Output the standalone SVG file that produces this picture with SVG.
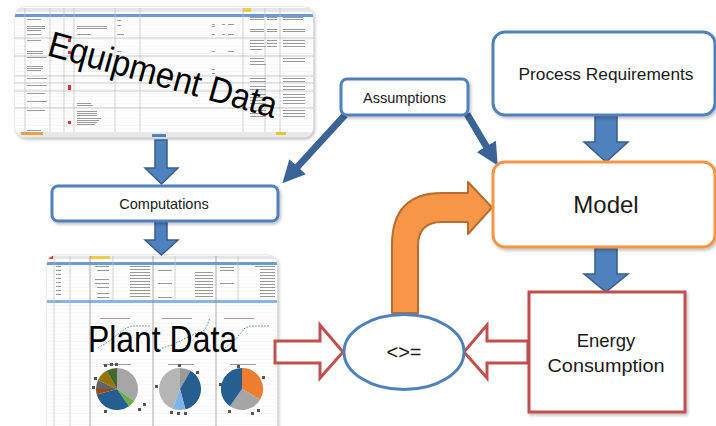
<svg xmlns="http://www.w3.org/2000/svg" width="716" height="426" viewBox="0 0 716 426">
<style>
.box{fill:#fff;stroke:#4f81bd;stroke-width:3}
.lbl{font-family:"Liberation Sans","Open Sans",Arial,sans-serif;fill:#1a1a1a;text-anchor:middle}
.big{font-family:"Liberation Sans","Open Sans",Arial,sans-serif;fill:#000}
.blk{fill:#4f81bd;stroke:#385d8a;stroke-width:1.5}
.hollow{fill:#fff;stroke:#c0504d;stroke-width:3;stroke-linejoin:miter}
.grid{stroke:#d0d0d0;stroke-width:0.5}
.vline{stroke:#bfbfbf;stroke-width:0.7}
.cell{fill:#9a9a9a}
.thin{stroke:#3a6496;stroke-width:7;fill:none}
</style>
<defs>
<pattern id="rows" width="8" height="3.6" patternUnits="userSpaceOnUse">
<rect width="8" height="3.6" fill="#fff"/>
<line x1="0" y1="3.5" x2="8" y2="3.5" stroke="#e4e4e4" stroke-width="0.5"/>
</pattern>
<clipPath id="ceq"><rect x="15" y="7" width="298" height="130" rx="9"/></clipPath>
<clipPath id="cpl"><rect x="47" y="255" width="230" height="180" rx="9"/></clipPath>
<marker id="ah" viewBox="0 0 10 10" refX="5" refY="5" markerWidth="3.2" markerHeight="3.2" orient="auto">
<path d="M0,0 L10,5 L0,10 Z" fill="#3a6496"/>
</marker>
<filter id="sh" x="-10%" y="-10%" width="120%" height="130%">
<feDropShadow dx="1.5" dy="2" stdDeviation="1.5" flood-color="#000" flood-opacity="0.25"/>
</filter>
</defs>

<!-- Equipment Data spreadsheet -->
<g id="equipment-data">
<rect x="15" y="7" width="298" height="130" rx="9" fill="#fff" stroke="#d8d8d8" filter="url(#sh)"/>
<g clip-path="url(#ceq)">
<rect x="15" y="7" width="298" height="130" fill="url(#rows)"/>
<rect x="15" y="8" width="298" height="4" fill="#e6e6e6"/>
<rect x="243" y="8" width="8" height="4" fill="#f2c94c"/>
<rect x="15" y="14" width="298" height="3" fill="#6c9bd2"/>
<line class="vline" x1="25" y1="8" x2="25" y2="132"/>
<line class="vline" x1="50" y1="8" x2="50" y2="132"/>
<line class="vline" x1="64" y1="8" x2="64" y2="132"/>
<line class="vline" x1="74" y1="8" x2="74" y2="132"/>
<line class="vline" x1="115" y1="8" x2="115" y2="132"/>
<line class="vline" x1="140" y1="8" x2="140" y2="132"/>
<line class="vline" x1="243" y1="8" x2="243" y2="132" stroke="#999"/>
<line class="vline" x1="265" y1="8" x2="265" y2="132"/>
<line class="vline" x1="280" y1="8" x2="280" y2="132"/>
<g stroke="#bdbdbd" stroke-width="0.8">
<line x1="15" y1="38" x2="313" y2="38"/><line x1="15" y1="56" x2="313" y2="56"/>
<line x1="15" y1="76" x2="313" y2="76"/><line x1="15" y1="83" x2="313" y2="83"/>
<line x1="15" y1="91" x2="313" y2="91"/><line x1="15" y1="108" x2="313" y2="108"/>
</g>
<g class="cell">
<rect x="27" y="19" width="14" height="1"/><rect x="27" y="26" width="18" height="1"/><rect x="27" y="28" width="18" height="1"/><rect x="27" y="30" width="14" height="1"/><rect x="27" y="34" width="14" height="1"/>
<rect x="77" y="26" width="30" height="1"/><rect x="77" y="28" width="30" height="1"/><rect x="77" y="34" width="14" height="1"/>
<rect x="27" y="40" width="14" height="1"/><rect x="27" y="51" width="16" height="1"/><rect x="27" y="53" width="16" height="1"/>
<rect x="27" y="57" width="20" height="1"/><rect x="27" y="66" width="16" height="1"/><rect x="27" y="68" width="16" height="1"/><rect x="27" y="70" width="14" height="1"/>
<rect x="27" y="78" width="20" height="1"/><rect x="27" y="85" width="20" height="1"/><rect x="27" y="93" width="18" height="1"/>
<rect x="27" y="101" width="20" height="1"/><rect x="27" y="110" width="18" height="1"/><rect x="27" y="130" width="14" height="1"/>
<rect x="77" y="103" width="14" height="1"/><rect x="77" y="105" width="16" height="1"/><rect x="77" y="111" width="20" height="1"/><rect x="77" y="113" width="20" height="1"/><rect x="77" y="115" width="20" height="1"/><rect x="77" y="118" width="24" height="1"/><rect x="77" y="120" width="22" height="1"/><rect x="77" y="122" width="20" height="1"/><rect x="77" y="124" width="18" height="1"/>
<rect x="117" y="20" width="4" height="1"/><rect x="117" y="25" width="4" height="1"/><rect x="117" y="34" width="7" height="1"/><rect x="117" y="51" width="4" height="1"/>
<rect x="212" y="24" width="3" height="1"/><rect x="212" y="26" width="3" height="1"/><rect x="212" y="34" width="3" height="1"/><rect x="212" y="51" width="3" height="1"/><rect x="212" y="69" width="3" height="1"/><rect x="212" y="73" width="3" height="1"/>
<rect x="222" y="24" width="3" height="1"/><rect x="228" y="24" width="6" height="1"/><rect x="222" y="34" width="3" height="1"/><rect x="228" y="34" width="6" height="1"/><rect x="228" y="51" width="6" height="1"/>
<rect x="250" y="17" width="14" height="1"/><rect x="250" y="19" width="14" height="1"/><rect x="250" y="29" width="14" height="1"/><rect x="250" y="31" width="14" height="1"/>
<rect x="267" y="17" width="10" height="1"/><rect x="267" y="19" width="10" height="1"/><rect x="267" y="29" width="10" height="1"/><rect x="267" y="31" width="10" height="1"/>
<rect x="283" y="17" width="20" height="1"/><rect x="283" y="19" width="20" height="1"/><rect x="283" y="29" width="22" height="1"/><rect x="283" y="31" width="22" height="1"/>
<rect x="250" y="40" width="14" height="1"/><rect x="250" y="43" width="14" height="1"/><rect x="250" y="46" width="16" height="1"/><rect x="250" y="49" width="12" height="1"/>
<rect x="267" y="40" width="10" height="1"/><rect x="267" y="43" width="10" height="1"/><rect x="267" y="46" width="10" height="1"/><rect x="283" y="40" width="22" height="1"/><rect x="283" y="43" width="22" height="1"/><rect x="283" y="46" width="22" height="1"/>
<rect x="250" y="58" width="14" height="1"/><rect x="250" y="61" width="14" height="1"/><rect x="250" y="64" width="16" height="1"/><rect x="283" y="58" width="22" height="1"/><rect x="283" y="61" width="22" height="1"/>
<rect x="250" y="78" width="16" height="1"/><rect x="250" y="81" width="16" height="1"/><rect x="250" y="86" width="16" height="1"/><rect x="250" y="89" width="16" height="1"/><rect x="250" y="94" width="16" height="1"/><rect x="250" y="97" width="16" height="1"/><rect x="250" y="100" width="16" height="1"/><rect x="250" y="103" width="16" height="1"/>
<rect x="283" y="78" width="22" height="1"/><rect x="283" y="81" width="22" height="1"/><rect x="283" y="86" width="22" height="1"/><rect x="283" y="89" width="22" height="1"/><rect x="283" y="94" width="22" height="1"/><rect x="283" y="97" width="22" height="1"/><rect x="283" y="100" width="22" height="1"/><rect x="283" y="103" width="22" height="1"/>
<rect x="250" y="110" width="16" height="1"/><rect x="250" y="113" width="16" height="1"/><rect x="250" y="116" width="16" height="1"/><rect x="283" y="110" width="22" height="1"/><rect x="283" y="113" width="22" height="1"/><rect x="283" y="116" width="22" height="1"/>
</g>
<g fill="#e03030">
<rect x="68" y="39" width="3" height="3"/><rect x="68" y="51" width="3" height="3"/><rect x="68" y="85" width="3" height="5"/><rect x="68" y="121" width="3" height="3"/>
</g>
<rect x="15" y="132" width="298" height="5" fill="#e8e8e8"/>
<rect x="21" y="132" width="22" height="3" fill="#e8a050"/>
<rect x="152" y="134" width="14" height="3" fill="#4f81bd"/>
<rect x="276" y="132" width="10" height="3" fill="#e6c040"/>
</g>
<text class="big" x="46" y="55" font-size="36" textLength="236" lengthAdjust="spacingAndGlyphs" transform="rotate(15.5 46 55)">Equipment Data</text>
</g>

<!-- Plant Data spreadsheet -->
<g id="plant-data">
<rect x="47" y="255" width="230" height="180" rx="9" fill="#fff" stroke="#d8d8d8" filter="url(#sh)"/>
<g clip-path="url(#cpl)">
<rect x="47" y="255" width="230" height="180" fill="url(#rows)"/>
<rect x="47" y="256" width="230" height="3" fill="#e6e6e6"/>
<rect x="90" y="256" width="20" height="3" fill="#f2c94c"/>
<rect x="47" y="262" width="230" height="3" fill="#6c9bd2"/>
<rect x="47" y="300" width="230" height="3" fill="#8db3e2"/>
<rect x="47" y="256" width="6" height="3" fill="#d04040"/>
<line class="vline" x1="54" y1="256" x2="54" y2="435"/>
<line class="vline" x1="70" y1="256" x2="70" y2="435"/>
<line x1="90" y1="256" x2="90" y2="435" stroke="#888" stroke-width="0.7"/>
<line class="vline" x1="113" y1="256" x2="113" y2="300"/>
<line x1="153" y1="256" x2="153" y2="435" stroke="#888" stroke-width="0.7"/>
<line class="vline" x1="175" y1="256" x2="175" y2="300"/>
<line x1="216" y1="256" x2="216" y2="435" stroke="#888" stroke-width="0.7"/>
<line class="vline" x1="238" y1="256" x2="238" y2="300"/>
<g class="cell">
<rect x="95" y="266" width="14" height="1"/><rect x="97" y="270" width="12" height="1"/><rect x="95" y="279" width="14" height="1"/><rect x="95" y="283" width="14" height="1"/><rect x="97" y="287" width="12" height="1"/><rect x="97" y="293" width="12" height="1"/><rect x="97" y="297" width="12" height="1"/>
<rect x="130" y="266" width="20" height="1"/><rect x="130" y="269" width="20" height="1"/><rect x="130" y="272" width="20" height="1"/><rect x="130" y="275" width="20" height="1"/><rect x="130" y="278" width="20" height="1"/><rect x="130" y="281" width="20" height="1"/><rect x="130" y="284" width="20" height="1"/><rect x="130" y="287" width="20" height="1"/><rect x="130" y="290" width="20" height="1"/><rect x="130" y="293" width="20" height="1"/><rect x="130" y="296" width="20" height="1"/>
<rect x="158" y="270" width="14" height="1"/><rect x="158" y="283" width="14" height="1"/><rect x="158" y="297" width="14" height="1"/>
<rect x="195" y="272" width="18" height="1"/><rect x="195" y="275" width="18" height="1"/><rect x="195" y="278" width="18" height="1"/><rect x="195" y="281" width="18" height="1"/><rect x="195" y="284" width="18" height="1"/><rect x="195" y="287" width="18" height="1"/><rect x="195" y="290" width="18" height="1"/><rect x="195" y="293" width="18" height="1"/><rect x="195" y="296" width="18" height="1"/>
<rect x="220" y="267" width="14" height="1"/><rect x="220" y="270" width="14" height="1"/><rect x="220" y="283" width="14" height="1"/>
<rect x="255" y="266" width="20" height="1"/><rect x="260" y="269" width="15" height="1"/><rect x="260" y="272" width="15" height="1"/><rect x="260" y="275" width="15" height="1"/><rect x="260" y="278" width="15" height="1"/><rect x="260" y="281" width="15" height="1"/><rect x="260" y="284" width="15" height="1"/><rect x="260" y="287" width="15" height="1"/><rect x="260" y="290" width="15" height="1"/><rect x="260" y="293" width="15" height="1"/><rect x="260" y="296" width="15" height="1"/>
<rect x="56" y="266" width="5" height="1"/><rect x="56" y="270" width="5" height="1"/><rect x="56" y="274" width="5" height="1"/><rect x="56" y="278" width="5" height="1"/><rect x="56" y="282" width="5" height="1"/><rect x="56" y="286" width="5" height="1"/><rect x="56" y="290" width="5" height="1"/><rect x="56" y="294" width="5" height="1"/><rect x="56" y="301" width="5" height="1"/>
<rect x="100" y="318" width="30" height="1"/><rect x="162" y="318" width="30" height="1"/><rect x="224" y="318" width="30" height="1"/>
<rect x="103" y="364" width="28" height="1"/><rect x="168" y="364" width="26" height="1"/><rect x="230" y="364" width="26" height="1"/>
</g>
<g fill="none" stroke="#4f81bd" stroke-width="1" stroke-dasharray="1.5 1.5">
<polyline points="98,348 108,342 118,334 126,328 132,326 150,326"/>
<polyline points="162,348 172,345 182,340 190,336 205,330 210,318"/>
<polyline points="225,348 235,340 245,328 250,326 270,326"/>
</g>
<path d="M117,389 L117,368 A21,21 0 0 1 134.2,401.1 Z" fill="#a6a6a6"/>
<path d="M117,389 L134.2,401.1 A21,21 0 0 1 129,406.2 Z" fill="#70ad47"/>
<path d="M117,389 L129,406.2 A21,21 0 0 1 96.7,394.4 Z" fill="#255e91"/>
<path d="M117,389 L96.7,394.4 A21,21 0 0 1 96,389 Z" fill="#9e480e"/>
<path d="M117,389 L96,389 A21,21 0 0 1 98,380.1 Z" fill="#636363"/>
<path d="M117,389 L98,380.1 A21,21 0 0 1 106.5,370.8 Z" fill="#997300"/>
<path d="M117,389 L106.5,370.8 A21,21 0 0 1 117,368 Z" fill="#43682b"/>
<path d="M180,389 L172.8,408.7 A21,21 0 0 1 180,368 Z" fill="#b5b5b5"/>
<path d="M180,389 L180,368 A21,21 0 0 1 190.5,370.8 Z" fill="#9a9a9a"/>
<path d="M180,389 L190.5,370.8 A21,21 0 0 1 185.4,409.3 Z" fill="#255e91"/>
<path d="M180,389 L185.4,409.3 A21,21 0 0 1 172.8,408.7 Z" fill="#7fb2e5"/>
<path d="M242,389 L242,368 A21,21 0 0 1 260.2,399.5 Z" fill="#ed7d31"/>
<path d="M242,389 L260.2,399.5 A21,21 0 0 1 229.9,406.2 Z" fill="#a5a5a5"/>
<path d="M242,389 L229.9,406.2 A21,21 0 0 1 242,368 Z" fill="#255e91"/>
<g fill="#555">
<rect x="104" y="364" width="3" height="3"/><rect x="110" y="363" width="3" height="3"/><rect x="115" y="363" width="3" height="3"/><rect x="94" y="377" width="3" height="3"/><rect x="92" y="386" width="3" height="3"/><rect x="143" y="403" width="3" height="3"/><rect x="138" y="408" width="3" height="3"/><rect x="104" y="410" width="3" height="3"/>
<rect x="178" y="364" width="3" height="3"/><rect x="196" y="371" width="3" height="3"/><rect x="155" y="385" width="3" height="3"/><rect x="170" y="411" width="3" height="3"/><rect x="177" y="412" width="3" height="3"/><rect x="184" y="412" width="3" height="3"/>
<rect x="237" y="365" width="3" height="3"/><rect x="262" y="376" width="3" height="3"/><rect x="219" y="383" width="3" height="3"/><rect x="228" y="410" width="3" height="3"/><rect x="251" y="412" width="3" height="3"/><rect x="257" y="409" width="3" height="3"/>
</g>
</g>
<text class="big" x="88" y="352" font-size="36" textLength="149" lengthAdjust="spacingAndGlyphs">Plant Data</text>
</g>

<!-- Connectors -->
<g id="connectors">
<path class="blk" d="M155,140 L167,140 L167,168 L178,168 L161.5,184 L145,168 L155,168 Z"/>
<path class="blk" d="M155,222 L167,222 L167,240 L178,240 L161.5,255 L145,240 L155,240 Z"/>
<path class="blk" d="M595,116 L617,116 L617,142 L628,142 L606,162 L584,142 L595,142 Z"/>
<path class="blk" d="M595,248 L617,248 L617,274 L628,274 L606,292 L584,274 L595,274 Z"/>
<line class="thin" x1="345" y1="115" x2="290" y2="175" marker-end="url(#ah)"/>
<line class="thin" x1="467" y1="114" x2="492" y2="156" marker-end="url(#ah)"/>
<path d="M392,313 L392,245 Q392,193 442,193 L468,193 L468,182 L492,207.5 L468,234 L468,222 L442,222 Q418,222 418,246 L418,313 Z" fill="#f79646" stroke="#b66d31" stroke-width="2" stroke-linejoin="round"/>
<path class="hollow" d="M275,341 L320,341 L320,325 L343,352 L320,378 L320,363 L275,363 Z"/>
<path class="hollow" d="M528,341 L487,341 L487,325 L464,352 L487,378 L487,363 L528,363 Z"/>
</g>

<g id="computations">
<rect class="box" x="52" y="186" width="226" height="35" rx="6" filter="url(#sh)"/>
<text class="lbl" x="164" y="209" font-size="14.5">Computations</text>
</g>
<g id="assumptions">
<rect class="box" x="341" y="79" width="127" height="36" rx="6" filter="url(#sh)"/>
<text class="lbl" x="404.5" y="103" font-size="14.5">Assumptions</text>
</g>
<g id="process-requirements">
<rect class="box" x="493" y="32" width="222" height="83" rx="12" filter="url(#sh)"/>
<text class="lbl" x="606" y="80" font-size="16" textLength="175" lengthAdjust="spacingAndGlyphs">Process Requirements</text>
</g>
<g id="model">
<rect class="box" x="493" y="162" width="222" height="85" rx="12" style="stroke:#f79646" filter="url(#sh)"/>
<text class="lbl" x="606" y="213" font-size="24">Model</text>
</g>
<g id="energy-consumption">
<rect class="box" x="529" y="292" width="156" height="120" style="stroke:#c0504d" filter="url(#sh)"/>
<text class="lbl" x="606" y="347" font-size="18.5">Energy</text>
<text class="lbl" x="606" y="372" font-size="18.5" textLength="117" lengthAdjust="spacingAndGlyphs">Consumption</text>
</g>
<g id="compare">
<ellipse cx="404" cy="352" rx="60" ry="37.5" fill="#fff" stroke="#4f81bd" stroke-width="3"/>
<text class="lbl" x="404" y="359" font-size="20">&lt;&gt;=</text>
</g>
</svg>
